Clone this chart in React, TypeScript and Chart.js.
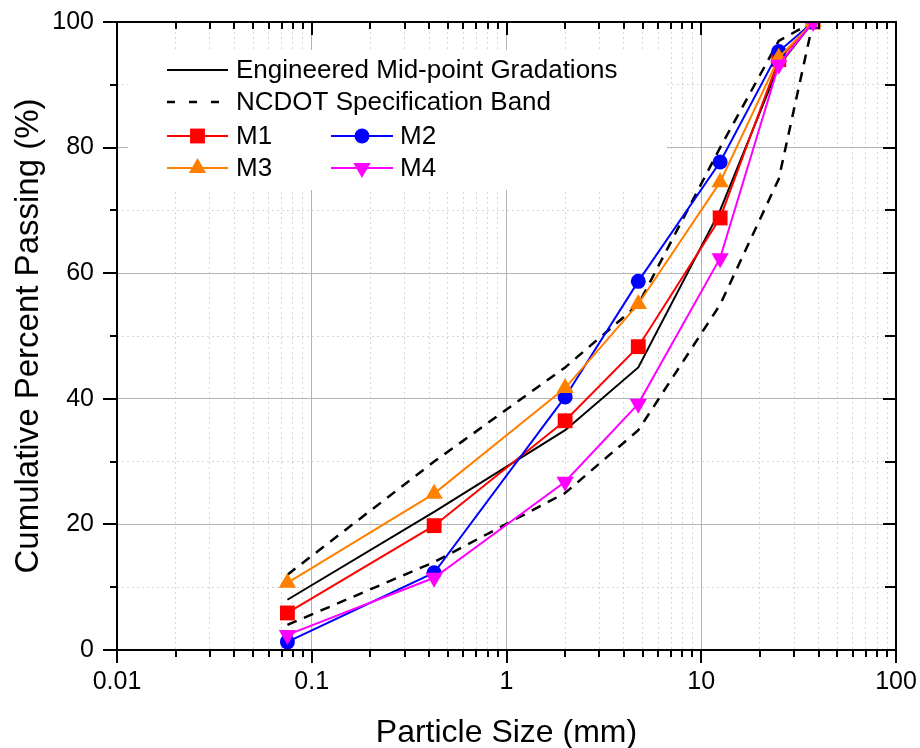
import React, { useEffect, useRef } from "react";
import { Chart, registerables } from "chart.js";

Chart.register(...registerables);

// ---- data ----
const sieveSizes = [0.075, 0.425, 2.0, 4.75, 12.5, 25.0, 37.5];
const midPoint = [8, 22, 35, 45, 70, 93, 100];
const specUpper = [12, 30, 45, 55, 80, 97, 100];
const specLower = [4, 14, 25, 35, 55, 75, 100];
const m1 = [5.9, 19.8, 36.5, 48.3, 68.8, 94.0, 100];
const m2 = [1.3, 12.3, 40.3, 58.7, 77.7, 95.3, 100];
const m3 = [10.7, 24.9, 41.7, 55.1, 74.5, 94.3, 100];
const m4 = [2.4, 11.5, 26.8, 39.2, 62.4, 93.2, 100];

const xMajorTicks = [0.01, 0.1, 1, 10, 100];
const xTickLabels = ["0.01", "0.1", "1", "10", "100"];
const yMajorTicks = [0, 20, 40, 60, 80, 100];
const legendLabels = [
  "Engineered Mid-point Gradations",
  "NCDOT Specification Band",
  "M1",
  "M2",
  "M3",
  "M4",
];

const FONT = "'Liberation Sans', Arial, sans-serif";

const RED = "#FF0000";
const BLUE = "#0000FF";
const ORANGE = "#FF8000";
const MAGENTA = "#FF00FF";

function allLogTicks(): number[] {
  const out: number[] = [];
  for (let e = -2; e <= 1; e++) {
    for (let m = 1; m <= 9; m++) {
      out.push(Number((m * Math.pow(10, e)).toPrecision(3)));
    }
  }
  out.push(100);
  return out;
}

function isDecade(v: number) {
  const l = Math.log10(v);
  return Math.abs(l - Math.round(l)) < 1e-6;
}

function pts(ys: number[]) {
  return sieveSizes.map((x, i) => ({ x, y: ys[i] }));
}

function drawMarker(ctx: CanvasRenderingContext2D, style: string, x: number, y: number, color: string) {
  ctx.save();
  ctx.fillStyle = color;
  ctx.beginPath();
  if (style === "rect") {
    const s = 10.5 * Math.SQRT1_2;
    ctx.rect(x - s, y - s, 2 * s, 2 * s);
  } else if (style === "circle") {
    ctx.arc(x, y, 7.5, 0, Math.PI * 2);
  } else if (style === "tri") {
    const r = 10;
    ctx.moveTo(x, y - r);
    ctx.lineTo(x + r * Math.sin((2 * Math.PI) / 3), y - r * Math.cos((2 * Math.PI) / 3));
    ctx.lineTo(x + r * Math.sin((4 * Math.PI) / 3), y - r * Math.cos((4 * Math.PI) / 3));
    ctx.closePath();
  } else if (style === "tridown") {
    const r = 10;
    ctx.moveTo(x, y + r);
    ctx.lineTo(x + r * Math.sin((2 * Math.PI) / 3), y + r * Math.cos((2 * Math.PI) / 3));
    ctx.lineTo(x + r * Math.sin((4 * Math.PI) / 3), y + r * Math.cos((4 * Math.PI) / 3));
    ctx.closePath();
  }
  ctx.fill();
  ctx.restore();
}

const legendPlugin = {
  id: "insideLegend",
  beforeDatasetsDraw(chart: any) {
    const ctx: CanvasRenderingContext2D = chart.ctx;
    ctx.save();
    ctx.fillStyle = "#ffffff";
    ctx.fillRect(128, 50, 539, 140);

    ctx.font = `26px ${FONT}`;
    ctx.textBaseline = "middle";
    ctx.textAlign = "left";
    ctx.fillStyle = "#000";

    const rows = [70, 102, 136, 168];
    const drawSample = (x0: number, x1: number, y: number, color: string, dash: number[], marker?: string) => {
      ctx.save();
      ctx.strokeStyle = color;
      ctx.lineWidth = dash.length ? 2.5 : 2;
      ctx.setLineDash(dash);
      ctx.beginPath();
      ctx.moveTo(x0, y);
      ctx.lineTo(x1, y);
      ctx.stroke();
      ctx.restore();
      if (marker) drawMarker(ctx, marker, (x0 + x1) / 2, y, color);
    };

    drawSample(167, 228, rows[0], "#000", []);
    ctx.fillText(legendLabels[0], 236, rows[0] + 1);
    drawSample(167, 228, rows[1], "#000", [8, 14]);
    ctx.fillText(legendLabels[1], 236, rows[1] + 1);
    drawSample(167, 228, rows[2], RED, [], "rect");
    ctx.fillText(legendLabels[2], 236, rows[2] + 1);
    drawSample(331, 393, rows[2], BLUE, [], "circle");
    ctx.fillText(legendLabels[3], 400, rows[2] + 1);
    drawSample(167, 228, rows[3], ORANGE, [], "tri");
    ctx.fillText(legendLabels[4], 236, rows[3] + 1);
    drawSample(331, 393, rows[3], MAGENTA, [], "tridown");
    ctx.fillText(legendLabels[5], 400, rows[3] + 1);
    ctx.restore();
  },
  afterDraw(chart: any) {
    const ctx: CanvasRenderingContext2D = chart.ctx;
    const { left, right, top, bottom } = chart.chartArea;
    const xs = chart.scales.x;
    const ys = chart.scales.y;
    ctx.save();
    ctx.strokeStyle = "#000";
    ctx.lineWidth = 2;
    ctx.beginPath();
    ctx.rect(left, top, right - left, bottom - top);
    ctx.stroke();

    ctx.lineWidth = 2;
    ctx.beginPath();
    for (const v of allLogTicks()) {
      const px = Math.round(xs.getPixelForValue(v));
      const len = isDecade(v) ? 13 : 7;
      ctx.moveTo(px, bottom);
      ctx.lineTo(px, bottom + len);
      ctx.moveTo(px, top);
      ctx.lineTo(px, top + len);
    }
    for (let v = 0; v <= 100; v += 10) {
      const py = Math.round(ys.getPixelForValue(v));
      const len = v % 20 === 0 ? 14 : 7;
      ctx.moveTo(left, py);
      ctx.lineTo(left - len, py);
      ctx.moveTo(right, py);
      ctx.lineTo(right - (v % 20 === 0 ? 13 : 11), py);
    }
    ctx.stroke();
    ctx.restore();
  },
};

export default function App() {
  const ref = useRef<HTMLCanvasElement | null>(null);

  useEffect(() => {
    if (!ref.current) return;
    Chart.defaults.font.family = FONT;
    const chart = new Chart(ref.current, {
      type: "scatter",
      data: {
        datasets: [
          {
            label: legendLabels[5],
            data: pts(m4),
            showLine: true,
            borderColor: MAGENTA,
            backgroundColor: MAGENTA,
            borderWidth: 2,
            pointStyle: "triangle",
            pointRotation: 180,
            pointRadius: 10,
            pointBorderWidth: 0,
            order: 0,
          },
          {
            label: legendLabels[4],
            data: pts(m3),
            showLine: true,
            borderColor: ORANGE,
            backgroundColor: ORANGE,
            borderWidth: 2,
            pointStyle: "triangle",
            pointRadius: 10,
            pointBorderWidth: 0,
            order: 1,
          },
          {
            label: legendLabels[3],
            data: pts(m2),
            showLine: true,
            borderColor: BLUE,
            backgroundColor: BLUE,
            borderWidth: 2,
            pointStyle: "circle",
            pointRadius: 7.5,
            pointBorderWidth: 0,
            order: 2,
          },
          {
            label: legendLabels[2],
            data: pts(m1),
            showLine: true,
            borderColor: RED,
            backgroundColor: RED,
            borderWidth: 2,
            pointStyle: "rect",
            pointRadius: 10.5,
            pointBorderWidth: 0,
            order: 3,
          },
          {
            label: legendLabels[0],
            data: pts(midPoint),
            showLine: true,
            borderColor: "#000",
            borderWidth: 2,
            pointRadius: 0,
            order: 4,
          },
          {
            label: legendLabels[1] + " upper",
            data: pts(specUpper),
            showLine: true,
            borderColor: "#000",
            borderWidth: 2.5,
            borderDash: [10, 8],
            pointRadius: 0,
            order: 5,
          },
          {
            label: legendLabels[1] + " lower",
            data: pts(specLower),
            showLine: true,
            borderColor: "#000",
            borderWidth: 2.5,
            borderDash: [10, 8],
            pointRadius: 0,
            order: 6,
          },
        ],
      },
      options: {
        responsive: false,
        animation: false,
        layout: { padding: { top: 22, right: 24, left: 0, bottom: 0 } },
        plugins: {
          legend: { display: false },
          tooltip: { enabled: false },
        },
        scales: {
          x: {
            type: "logarithmic",
            min: 0.01,
            max: 100,
            afterBuildTicks: (scale: any) => {
              scale.ticks = allLogTicks().map((v) => ({ value: v, major: isDecade(v) }));
            },
            afterFit: (scale: any) => {
              scale.height = 98;
              scale.paddingLeft = 0;
              scale.paddingRight = 0;
            },
            ticks: {
              autoSkip: false,
              maxRotation: 0,
              minRotation: 0,
              padding: 17,
              color: "#000",
              font: { size: 25, family: FONT },
              callback: (value: any) => {
                const v = Number(value);
                const idx = xMajorTicks.findIndex((t) => Math.abs(t - v) < 1e-9);
                return idx >= 0 ? xTickLabels[idx] : "";
              },
            },
            grid: {
              drawTicks: false,
              lineWidth: 1,
              color: (c: any) => (c.tick && isDecade(c.tick.value) ? "#b4b4b4" : "#d6d6d6"),
            },
            border: {
              display: false,
              dash: (c: any) => (c.tick && !isDecade(c.tick.value) ? [2, 3] : []),
            },
            title: {
              display: true,
              text: "Particle Size (mm)",
              color: "#000",
              font: { size: 32, family: FONT, lineHeight: 0.9 },
              padding: { top: 0, bottom: 0 },
            },
          },
          y: {
            type: "linear",
            min: 0,
            max: 100,
            afterBuildTicks: (scale: any) => {
              const t: any[] = [];
              for (let v = 0; v <= 100; v += 10) t.push({ value: v });
              scale.ticks = t;
            },
            afterFit: (scale: any) => {
              scale.width = 117;
              scale.paddingTop = 0;
              scale.paddingBottom = 0;
            },
            ticks: {
              autoSkip: false,
              padding: 23,
              color: "#000",
              font: { size: 25, family: FONT },
              callback: (value: any) => {
                const v = Number(value);
                return yMajorTicks.includes(v) ? String(v) : "";
              },
            },
            grid: {
              drawTicks: false,
              lineWidth: 1,
              color: (c: any) => (c.tick && c.tick.value % 20 === 0 ? "#b4b4b4" : "#d6d6d6"),
            },
            border: {
              display: false,
              dash: (c: any) => (c.tick && c.tick.value % 20 !== 0 ? [2, 3] : []),
            },
            title: {
              display: true,
              text: "Cumulative Percent Passing (%)",
              color: "#000",
              font: { size: 33, family: FONT, lineHeight: 1.2 },
              padding: { top: 9, bottom: 0 },
            },
          },
        },
      },
      plugins: [legendPlugin],
    } as any);
    return () => chart.destroy();
  }, []);

  return (
    <div style={{ position: "fixed", left: 0, top: 0, width: 920, height: 748, background: "#fff" }}>
      <canvas ref={ref} width={920} height={748} style={{ display: "block" }} />
    </div>
  );
}
